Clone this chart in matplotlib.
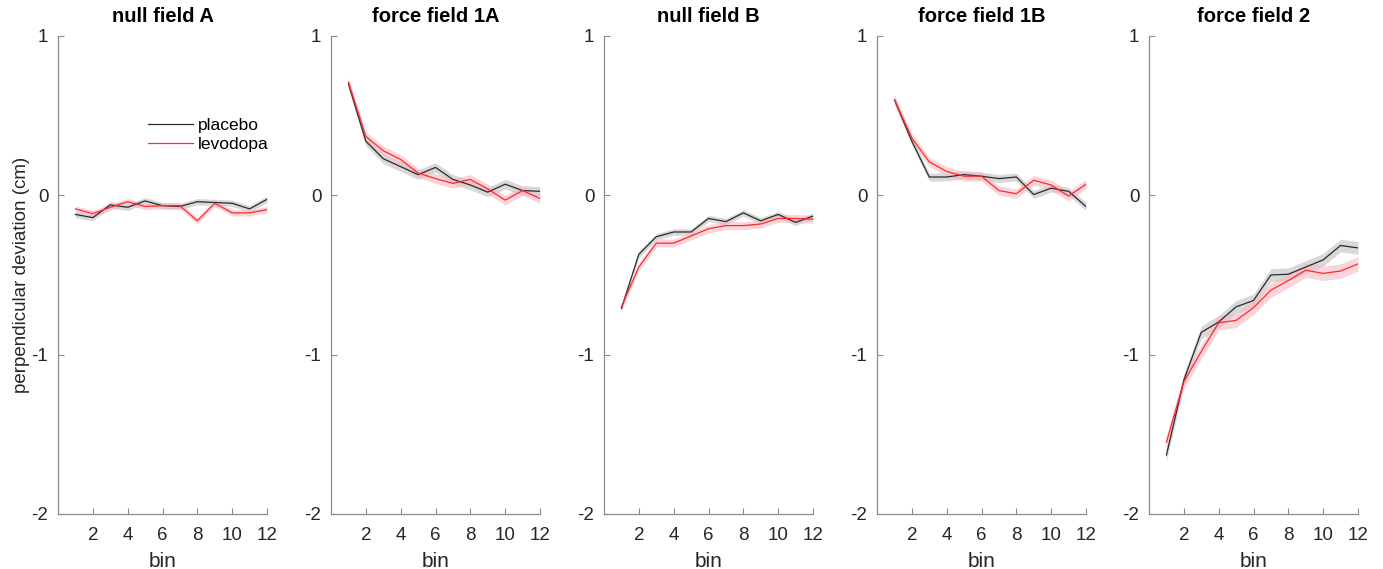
import numpy as np
import matplotlib
matplotlib.use("Agg")
import matplotlib.pyplot as plt

plt.rcParams['font.family'] = ['Liberation Sans', 'DejaVu Sans']

# bins 1..12
bins = np.arange(1, 13)
titles = ['null field A', 'force field 1A', 'null field B', 'force field 1B', 'force field 2']

# placebo means per block
placebo_nfA = [-0.12, -0.14, -0.06, -0.075, -0.035, -0.065, -0.07, -0.04, -0.045, -0.05, -0.085, -0.025]
placebo_ff1A = [0.70, 0.34, 0.23, 0.18, 0.13, 0.175, 0.10, 0.065, 0.02, 0.07, 0.03, 0.025]
placebo_nfB = [-0.71, -0.37, -0.26, -0.23, -0.23, -0.145, -0.165, -0.11, -0.16, -0.12, -0.17, -0.13]
placebo_ff1B = [0.60, 0.34, 0.115, 0.115, 0.13, 0.12, 0.105, 0.115, 0.005, 0.045, 0.025, -0.07]
placebo_ff2 = [-1.63, -1.16, -0.86, -0.795, -0.70, -0.66, -0.50, -0.495, -0.45, -0.405, -0.315, -0.33]

# levodopa means per block
levodopa_nfA = [-0.085, -0.115, -0.075, -0.04, -0.07, -0.065, -0.065, -0.16, -0.05, -0.11, -0.11, -0.09]
levodopa_ff1A = [0.71, 0.37, 0.28, 0.225, 0.14, 0.105, 0.075, 0.10, 0.04, -0.03, 0.03, -0.02]
levodopa_nfB = [-0.70, -0.45, -0.30, -0.30, -0.255, -0.21, -0.19, -0.19, -0.18, -0.145, -0.145, -0.15]
levodopa_ff1B = [0.60, 0.36, 0.21, 0.15, 0.12, 0.12, 0.03, 0.01, 0.095, 0.065, -0.005, 0.07]
levodopa_ff2 = [-1.55, -1.17, -0.98, -0.80, -0.785, -0.705, -0.595, -0.535, -0.47, -0.49, -0.475, -0.43]

# standard errors (band half-widths)
sem_placebo = [0.02, 0.03, 0.02, 0.025, 0.04]
sem_levodopa = [0.02, 0.03, 0.025, 0.03, 0.045]

placebo = [placebo_nfA, placebo_ff1A, placebo_nfB, placebo_ff1B, placebo_ff2]
levodopa = [levodopa_nfA, levodopa_ff1A, levodopa_nfB, levodopa_ff1B, levodopa_ff2]

fig = plt.figure(figsize=(13.83, 5.69), dpi=100)
lefts = [58, 331, 604, 877, 1149]
spine_col = '#8c8c8c'
text_col = '#262626'

for i in range(5):
    ax = fig.add_axes([lefts[i] / 1383, 1 - 514 / 569, 209 / 1383, 478 / 569])
    p = np.array(placebo[i])
    l = np.array(levodopa[i])
    ax.fill_between(bins, p - sem_placebo[i], p + sem_placebo[i], color='#c8c8c8', alpha=0.7, lw=0)
    ax.fill_between(bins, l - sem_levodopa[i], l + sem_levodopa[i], color='#f7b8c4', alpha=0.6, lw=0)
    ax.plot(bins, p, color='#2b2b2b', lw=0.9, label='placebo')
    ax.plot(bins, l, color='#ff2a2a', lw=0.9, label='levodopa')

    ax.set_xlim(0, 12)
    ax.set_ylim(-2, 1)
    ax.set_xticks([2, 4, 6, 8, 10, 12])
    ax.set_yticks([-2, -1, 0, 1])
    ax.set_yticklabels(['-2', '-1', '0', '1'])
    for s in ['top', 'right']:
        ax.spines[s].set_visible(False)
    for s in ['left', 'bottom']:
        ax.spines[s].set_color(spine_col)
        ax.spines[s].set_linewidth(0.9)
    ax.tick_params(direction='in', length=4, width=0.8, color=spine_col,
                   labelsize=13.5, labelcolor=text_col)
    ax.tick_params(axis='x', pad=9)
    ax.tick_params(axis='y', pad=7)
    ax.set_title(titles[i], fontsize=14.5, fontweight='bold', color='black', pad=10)
    ax.set_xlabel('bin', fontsize=15, color=text_col, labelpad=6)
    if i == 0:
        ax.set_ylabel('perpendicular deviation (cm)', fontsize=13.5, color=text_col, labelpad=1)
        ax.legend(loc='upper left', bbox_to_anchor=(0.355, 0.862), frameon=False,
                  fontsize=12.5, handlelength=2.6, handletextpad=0.3, labelspacing=0.25)

fig.savefig('out.png', dpi=100)
